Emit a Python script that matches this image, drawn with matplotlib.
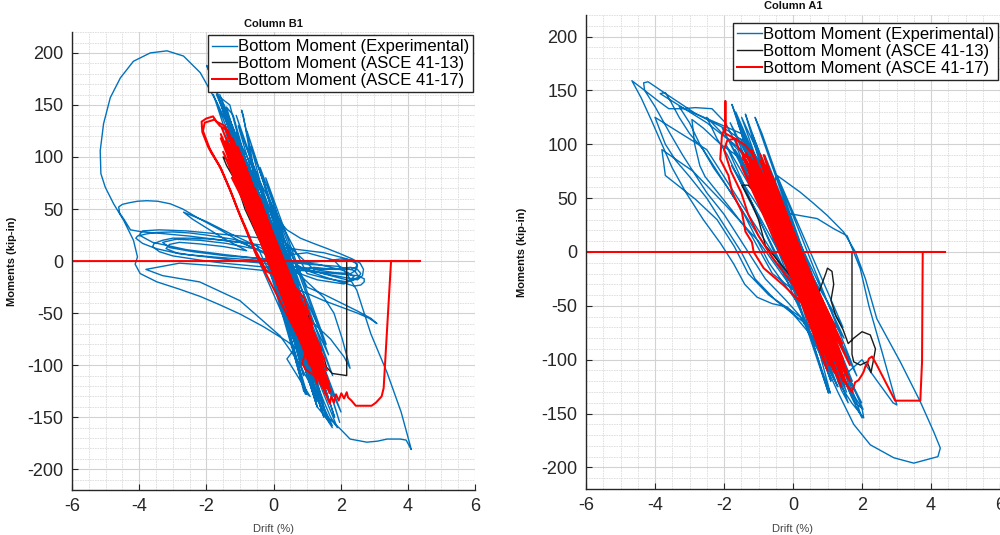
import matplotlib
matplotlib.use('Agg')
import matplotlib.pyplot as plt
from matplotlib.ticker import MultipleLocator
import numpy as np

plt.rcParams['font.family'] = ['Liberation Sans', 'DejaVu Sans']
plt.rcParams['axes.unicode_minus'] = False

# (drift %, moment kip-in) traces, in load order
b1_exp = [
    (0.00, 0), (0.35, -25), (-0.20, 22), (0.55, -45), (-0.45, 48), (0.80, -65), (-0.70, 70),
    (0.95, -85), (-0.90, 92), (1.10, -100), (-1.05, 108), (1.25, -112), (-1.20, 122),
    (0.95, -128), (-1.40, 135), (1.30, -140), (-1.55, 150), (1.50, -150), (-1.75, 168),
    (-1.99, 188), (-1.85, 178), (-1.0, 100), (-0.3, 30),
    (-0.9, 140), (-0.95, 145), (-0.7, 110), (-0.49, 68), (-0.2, 52), (0.0, 45), (0.4, 30),
    (0.8, 22), (1.19, 17), (1.6, 12), (1.99, 7), (2.35, 2), (2.58, -2), (2.68, -8),
    (2.65, -14), (2.5, -18), (2.0, -15), (1.5, -12), (0.5, -5),
    (-0.2, 8), (-1.0, 18), (-1.8, 21), (-2.5, 22), (-3.0, 22), (-3.3, 20), (-3.55, 17),
    (-3.6, 14), (-3.4, 9), (-3.0, 5), (-2.2, 1), (-1.5, -2), (-0.5, -5), (0.5, -8),
    (1.2, -10), (1.8, -12), (2.2, -13), (2.5, -14), (2.7, -17), (2.7, -20), (2.6, -23),
    (2.4, -24), (2.0, -20), (1.5, -15), (0.9, -8), (0.3, 5),
    (-1.3, 120), (1.2, -128), (-1.6, 160), (-1.2, 128), (0.2, 0),
    (-0.89, 17), (-1.59, 30), (-2.28, 42), (-2.7, 50), (-3.07, 55), (-3.45, 57.5),
    (-3.77, 58), (-4.05, 57.5), (-4.30, 56), (-4.5, 54.5), (-4.61, 52), (-4.58, 46),
    (-4.45, 40), (-4.26, 30), (-3.9, 28), (-3.5, 27), (-2.5, 24), (-1.5, 20), (-0.5, 16),
    (0.5, 12), (1.5, 8), (2.2, 2), (2.45, -2), (2.5, -5), (2.45, -9), (2.3, -12),
    (1.8, -11), (1.2, -8),
    (-0.4, 40), (0.9, -110), (-1.1, 125), (1.45, -145), (1.75, -160), (1.6, -150), (0.6, -60),
    (-0.5, 15), (-1.2, 21), (-2.0, 25), (-2.5, 27), (-3.0, 28), (-3.5, 27.5), (-3.8, 26),
    (-4.05, 24), (-4.1, 22), (-3.9, 17), (-3.5, 12), (-2.8, 7), (-2.0, 4), (-1.0, 0),
    (0.0, -3), (0.8, -6), (1.5, -8), (2.0, -7), (2.3, -6), (2.5, -8), (2.6, -12),
    (2.5, -17), (2.2, -20), (1.6, -17), (1.0, -12),
    (-1.5, 145), (-1.7, 160), (-1.3, 150), (0.4, -60), (1.0, -128), (0.9, -120),
    (-0.2, 10), (-1.2, 25), (-2.0, 38), (-2.68, 47), (-2.4, 40), (-1.5, 22), (-0.8, 10),
    (-1.5, 14), (-2.2, 16.5), (-2.8, 18), (-3.1, 16), (-3.2, 12), (-2.9, 8), (-2.5, 6),
    (-1.8, 4), (-1.0, 2), (0.0, 0), (0.8, -2), (1.5, 0), (2.0, 2), (2.35, 1), (2.5, -3),
    (2.45, -6), (2.3, -8), (1.8, -8), (1.2, -6),
    (0.0, -15), (0.5, -25), (1.0, -31), (1.5, -38), (2.0, -44), (2.5, -50), (2.85, -55),
    (3.08, -60), (2.9, -55), (2.5, -48), (2.0, -40), (1.5, -32), (1.0, -25),
    (-1.1, 115), (-1.4, 148), (-1.2, 140), (-0.2, 25),
    (-1.05, 110), (-1.68, 152), (-2.18, 181), (-2.68, 197), (-3.17, 202), (-3.67, 200),
    (-4.17, 192), (-4.56, 176), (-4.86, 157), (-5.06, 132), (-5.16, 106), (-5.14, 84),
    (-5.01, 71), (-4.76, 55), (-4.46, 39), (-4.17, 20), (-4.05, 4), (-4.12, -3),
    (-3.97, -12), (-3.47, -20), (-2.8, -27), (-2.18, -34), (-1.6, -42), (-0.99, -51),
    (-0.3, -63), (0.40, -77), (0.80, -87), (1.2, -110), (1.5, -135), (1.7, -150),
    (1.9, -160), (1.4, -120),
    (0.0, -10), (-1.5, -5), (-2.8, -2), (-3.8, -8), (-3.3, -14), (-2.2, -20), (-1.0, -38),
    (0.2, -72), (0.7, -95), (1.3, -130), (1.55, -148),
    (1.98, -161), (2.28, -171), (2.78, -174), (3.1, -173), (3.38, -171), (3.77, -171),
    (3.95, -172), (4.10, -181), (4.07, -177), (3.8, -145), (3.38, -107), (2.9, -70),
    (2.6, -40), (2.48, -28), (2.18, -12), (1.79, 1), (1.0, 8), (0.2, 5),
    (1.0, -20), (1.5, -35), (1.8, -50), (2.05, -75), (2.28, -103), (2.1, -92), (1.7, -75),
    (1.2, -60),
    (0.4, -94), (1.09, -130), (0.9, -125), (-0.5, 50), (1.3, -140), (1.75, -158),
    (1.35, -130),
    (-0.6, 12), (-1.4, 17), (-2.2, 20), (-2.9, 21), (-3.3, 18), (-3.1, 13), (-2.4, 9),
    (-1.4, 5), (-0.2, 2), (1.0, -3), (1.9, -5), (2.4, -9), (2.55, -15), (2.3, -19),
    (1.7, -14), (0.8, -6),
    (-0.3, 22), (-1.6, 26), (-2.6, 29), (-3.4, 30), (-3.9, 29), (-4.0, 25), (-3.6, 18),
    (-2.6, 11), (-1.4, 6), (0.0, 1), (1.3, -3), (2.1, -9), (2.4, -15), (2.1, -22),
    (1.3, -18), (0.6, -10),
    (-1.05, 130), (1.18, -120), (-0.67, 110), (1.76, -110), (-1.48, 150), (1.50, -140),
    (-0.40, 90), (1.64, -90), (-1.44, 120), (1.79, -130), (-1.11, 140), (1.82, -150),
    (-0.71, 100), (0.85, -100), (-1.79, 160), (1.73, -125), (-0.79, 125), (1.97, -155),
    (-0.23, 80), (1.57, -80), (-1.41, 135), (1.30, -135), (-0.92, 105), (2.01, -145),
    (0.0, 0),
]

b1_asce13 = [
    (0, 0), (0.3, -20), (-0.4, 30), (0.7, -50), (-0.8, 55), (-0.9, 62), (-1.1, 72),
    (-1.05, 80), (-1.3, 88), (-1.25, 95), (-1.5, 100), (-1.4, 92), (-1.15, 78),
    (-0.95, 60), (-0.85, 50), (0.3, -30), (0.9, -60), (1.05, -52), (1.2, -75), (1.4, -88),
    (1.5, -93), (1.58, -102), (1.75, -108), (2.18, -110), (2.18, 0), (2.96, 0), (-2.2, 0),
]

b1_asce17 = [
    (0.0, 0), (0.02, 20), (0.19, -25), (-0.27, 35), (0.82, -40), (-0.81, 50), (0.81, -55),
    (-0.55, 65), (0.70, -70), (-1.04, 80), (1.42, -85), (-0.98, 95), (1.07, -95),
    (-1.3, 118), (-1.45, 130), (-1.7, 134), (-1.8, 139), (-2.0, 137), (-2.14, 134),
    (-2.12, 124), (-1.95, 110), (-1.85, 104), (-1.6, 91), (-1.3, 69), (-1.05, 48),
    (-0.8, 30), (-0.6, 14), (-0.2, -10), (0.5, -20), (0.9, -35), (1.15, -60), (1.05, -80),
    (0.85, -98), (0.95, -104), (1.3, -112),
    (-1.50, 105), (1.49, -105), (-1.29, 112), (1.36, -110), (-1.22, 118), (1.62, -115),
    (-1.57, 122), (1.43, -120), (-0.94, 100), (1.61, -122), (-1.40, 125), (1.40, -90),
    (-1.26, 90), (1.70, -125), (-0.41, 60), (0.55, -60), (-0.36, 30), (1.48, -100),
    (-1.07, 110), (1.31, -118),
    (-1.35, 125), (-1.6, 130), (-1.75, 136), (-2.05, 133), (-2.1, 125), (-1.9, 108),
    (-1.55, 88), (-1.25, 65), (-0.95, 40), (-0.5, 5),
    (1.1, -95), (-1.2, 115), (1.5, -120), (-1.54, 128), (1.67, -127), (-0.9, 85),
    (1.2, -105), (-0.6, 50), (1.55, -128),
    (-0.79, 60), (0.93, -60), (-0.73, 75), (0.87, -75), (-1.06, 90), (1.38, -100),
    (-1.05, 105), (1.26, -110), (-1.43, 115), (1.65, -118), (-1.34, 120), (1.28, -80),
    (-1.20, 85), (1.10, -90), (-0.56, 70), (1.14, -65), (-0.70, 45), (0.39, -45),
    (-1.34, 100), (1.59, -105), (-1.37, 110), (1.56, -122), (-0.88, 95), (1.08, -100),
    (-1.57, 118), (1.52, -115), (-0.52, 55), (1.00, -50), (-1.24, 80), (1.52, -95),
    (-1.3, 120), (1.62, -133),
    (1.68, -137), (1.72, -130), (1.8, -136), (1.86, -128), (1.94, -134), (2.02, -127),
    (2.1, -132), (2.18, -126), (2.22, -131), (2.32, -134), (2.45, -139), (2.92, -139),
    (3.05, -136), (3.22, -130), (3.28, -122), (3.50, 0), (4.36, 0), (-6.0, 0),
]

a1_exp = [
    (0.00, 0), (0.5, -35), (-0.4, 30), (0.8, -60), (-0.75, 55), (1.0, -80), (-1.0, 75),
    (1.2, -95), (-1.2, 90), (1.35, -110), (-1.35, 105), (1.1, -120), (-1.5, 115),
    (1.5, -125), (-1.1, 100), (0.9, -100), (-1.77, 137), (-1.6, 120), (1.03, -131),
    (0.9, -118), (-1.38, 128), (-1.2, 112), (1.6, -140), (1.4, -128), (-1.6, 120),
    (2.03, -146), (1.8, -140), (-1.1, 125), (-0.9, 110), (2.0, -154), (1.7, -135),
    (-0.3, 20),
    (-1.77, 108), (-1.96, 120), (-2.35, 133), (-2.83, 134), (-3.2, 133), (-3.6, 133),
    (-3.9, 140), (-4.3, 150), (-4.67, 159),
    (-4.4, 143), (-4.1, 122), (-3.8, 100), (-3.5, 78), (-3.1, 55), (-2.6, 30), (-2.1, 8),
    (-1.72, -11), (-1.4, -30), (-1.04, -42), (-0.6, -48), (-0.17, -51), (0.41, -73),
    (0.9, -100), (1.3, -125), (1.0, -105),
    (-1.0, 85), (-1.3, 100),
    (-2.0, 115), (-2.8, 128), (-3.6, 145), (-4.2, 158), (-4.33, 157), (-4.3, 150),
    (-4.0, 135), (-3.6, 112), (-3.2, 90), (-2.9, 75), (-2.5, 55), (-2.0, 35), (-1.6, 15),
    (-1.2, -5), (-0.8, -25), (-0.2, -45), (0.5, -70), (1.1, -110), (0.8, -90),
    (-1.5, 95), (-2.5, 120), (-3.5, 140), (-3.85, 147), (-3.7, 148), (-3.55, 140),
    (-3.3, 125), (-3.0, 110), (-2.6, 95), (-2.2, 75), (-1.8, 55), (-1.4, 35), (-0.9, 10),
    (-0.5, -10), (0.3, -45), (0.9, -80),
    (-1.2, 80), (-2.1, 100), (-2.6, 115), (-2.93, 123), (-2.85, 100), (-2.7, 80),
    (-2.55, 70), (-2.3, 60), (-1.8, 40), (-1.2, 15), (-0.6, -20),
    (0.0, -35), (-1.0, 10), (-2.0, 45), (-2.9, 75), (-3.8, 95), (-3.7, 71), (-2.83, 49),
    (-2.2, 30), (-1.7, 5), (-1.3, -20), (-0.7, -40), (0.2, -60), (0.7, -85), (1.08, -131),
    (0.95, -120),
    (-1.5, 110), (-3.3, 135), (-3.0, 120), (-2.7, 100), (-2.3, 78), (-1.9, 60), (-1.5, 40),
    (-1.1, 15), (-0.7, -10), (0.2, -50),
    (-1.6, 95), (-2.5, 125), (-2.2, 105), (-1.9, 90), (-1.6, 70), (-1.3, 50), (-0.9, 25),
    (-0.2, -20),
    (-2.5, 95), (-4.0, 125), (-3.7, 100), (-3.4, 85), (-3.0, 70), (-2.5, 50), (-2.0, 25),
    (-1.5, 0), (-1.1, -25), (-0.5, -45), (0.3, -65), (0.9, -95),
    (-0.6, 60), (-0.46, 71),
    (0.21, 55.5), (0.6, 45), (0.99, 34), (1.47, 18.5), (1.81, 0), (2.1, -25), (2.43, -62),
    (3.11, -102), (3.69, -139), (4.08, -167), (4.27, -182), (4.2, -190), (4.08, -191),
    (3.5, -196), (2.92, -191), (2.24, -179), (1.76, -160), (1.3, -130), (0.8, -95),
    (0.0, -10), (-0.8, 40), (0.0, 35), (0.7, 31), (1.18, 21.6), (1.57, 15), (1.95, -15.5),
    (2.2, -50), (2.6, -95), (3.01, -142), (2.9, -140), (2.4, -118), (2.0, -100),
    (1.3, -120), (1.7, -140), (2.05, -154), (2.0, -145), (1.6, -125), (0.5, -50),
    (-1.66, 130), (1.72, -120), (-1.19, 110), (0.99, -110), (-1.95, 100), (1.65, -100),
    (-1.82, 120), (1.55, -130), (-0.82, 90), (1.42, -90), (-2.05, 115), (1.99, -140),
    (-1.78, 80), (1.48, -80), (-1.49, 125), (1.29, -125), (-1.52, 105), (1.85, -115),
    (-0.45, 70), (1.45, -70), (-1.68, 95), (1.72, -135),
    (-0.5, 30), (0.0, 0),
]

a1_asce13 = [
    (0, 0), (0.4, -30), (-0.5, 35), (0.7, -50), (-0.9, 50), (-1.1, 55), (-1.3, 62),
    (-1.48, 62), (-1.2, 45), (-1.0, 30), (-0.8, 6), (0.0, -25), (0.6, -50), (0.95, -20),
    (1.0, -15), (1.13, -18), (1.18, -30), (1.1, -45), (1.25, -60), (1.45, -72), (1.6, -85),
    (1.76, -80), (2.0, -74), (2.24, -77), (2.39, -90), (2.34, -99), (2.26, -112),
    (2.2, -106), (2.14, -102), (1.95, -105), (1.76, -102), (1.71, -95), (1.71, 0),
    (2.97, 0), (-2.54, 0),
]

a1_asce17 = [
    (0, 0), (0.3, -20), (-0.3, 20), (0.65, -40), (-0.75, 40), (0.95, -60), (-0.65, 55),
    (0.7, -70), (-1.0, 65), (1.25, -80), (-1.3, 75), (0.9, -85), (-0.95, 85), (1.3, -95),
    (-1.2, 92), (-1.38, 99), (-1.67, 105), (-1.96, 110), (-1.96, 140), (-1.96, 117),
    (-2.06, 108), (-2.11, 86), (-1.87, 71), (-1.77, 56), (-1.48, 37), (-1.38, 19),
    (-1.19, 9), (-1.14, 0), (-0.85, -15), (-0.27, -31), (0.31, -49), (0.8, -75), (1.1, -92),
    (-1.45, 90), (1.45, -100), (-0.6, 70), (1.05, -105), (-1.25, 88), (1.55, -110),
    (-0.85, 90), (1.2, -112), (-1.5, 80), (1.6, -118), (-1.0, 70), (0.85, -95), (-0.5, 45),
    (1.5, -120),
    (-1.1, 80), (-1.58, 96), (-1.67, 105), (-1.9, 104), (-2.0, 95), (-1.8, 75), (-1.5, 55),
    (-1.3, 35), (-1.0, 15), (-0.6, -5), (0.0, -30),
    (1.3, -115), (-1.2, 95), (1.57, -124), (-0.8, 80), (1.4, -125), (-1.35, 85), (1.0, -110),
    (-0.3, 30), (1.2, -100), (-0.7, 60),
    (-0.93, 60), (0.89, -60), (-0.83, 75), (0.79, -75), (-1.17, 85), (1.43, -100),
    (-0.94, 90), (1.22, -110), (-1.27, 70), (1.43, -85), (-0.55, 50), (0.36, -50),
    (-1.25, 80), (1.20, -90), (-0.65, 65), (1.65, -120), (-1.46, 88), (1.43, -115),
    (-0.76, 40), (1.23, -70), (-0.97, 78), (1.65, -105), (-1.36, 92), (0.96, -95),
    (-1.06, 55), (0.77, -40), (-0.69, 72), (1.42, -118), (1.57, -124),
    (1.71, -130), (1.8, -121), (1.9, -119), (2.0, -114), (2.05, -111), (2.1, -106),
    (2.14, -105), (2.2, -99), (2.29, -97), (2.43, -105), (2.96, -138), (3.69, -138),
    (3.74, -102), (3.76, 0), (4.41, 0), (-6.0, 0),
]

labels = ['Bottom Moment (Experimental)', 'Bottom Moment (ASCE 41-13)',
          'Bottom Moment (ASCE 41-17)']
colors = ['#0072BD', '#1a1a1a', '#FF0000']
widths = [1.0, 1.0, 1.45]
dark = '#262626'

fig = plt.figure(figsize=(10, 5.35), dpi=100)
ax_b1 = fig.add_axes([0.072, 0.084, 0.403, 0.856])
ax_a1 = fig.add_axes([0.586, 0.086, 0.414, 0.886])

panels = [
    (ax_b1, 'Column B1', [b1_exp, b1_asce13, b1_asce17], (0.995, 0.993), -0.136),
    (ax_a1, 'Column A1', [a1_exp, a1_asce13, a1_asce17], (0.995, 0.983), -0.143),
]

for ax, title, series, leg_pos, ylab_x in panels:
    for data, lab, col, lw in zip(series, labels, colors, widths):
        d = np.array(data, dtype=float)
        ax.plot(d[:, 0], d[:, 1], color=col, lw=lw, label=lab,
                solid_joinstyle='round')

    ax.set_xlim(-6, 6)
    ax.set_ylim(-220, 220)
    ax.xaxis.set_major_locator(MultipleLocator(2))
    ax.yaxis.set_major_locator(MultipleLocator(50))
    ax.xaxis.set_minor_locator(MultipleLocator(0.5))
    ax.yaxis.set_minor_locator(MultipleLocator(10))
    ax.grid(which='major', color='#d2d2d2', lw=0.8)
    ax.grid(which='minor', color='#dcdcdc', lw=0.6, ls=(0, (2, 1)))
    ax.set_axisbelow(True)
    for side in ['top', 'right']:
        ax.spines[side].set_visible(False)
    for side in ['left', 'bottom']:
        ax.spines[side].set_color(dark)
        ax.spines[side].set_linewidth(1.0)
    ax.tick_params(which='major', direction='in', length=4, width=0.8, colors=dark,
                   labelsize=13, pad=6)
    ax.tick_params(which='minor', length=0)

    ax.set_title(title, fontsize=8, fontweight='bold', color='#111111', pad=4)
    ax.set_xlabel('Drift (%)', fontsize=8, color='#444444')
    ax.xaxis.set_label_coords(0.5, -0.074)
    ax.set_ylabel('Moments (kip-in)', fontsize=8, fontweight='bold', color='#111111')
    ax.yaxis.set_label_coords(ylab_x, 0.5)

    leg = ax.legend(loc='upper right', bbox_to_anchor=leg_pos, fontsize=12,
                    handlelength=1.5, handletextpad=0.05, borderpad=0.25,
                    labelspacing=0.1, borderaxespad=0, fancybox=False,
                    framealpha=1, edgecolor=dark)
    leg.get_frame().set_linewidth(1.0)

fig.savefig('out.png', dpi=100)
